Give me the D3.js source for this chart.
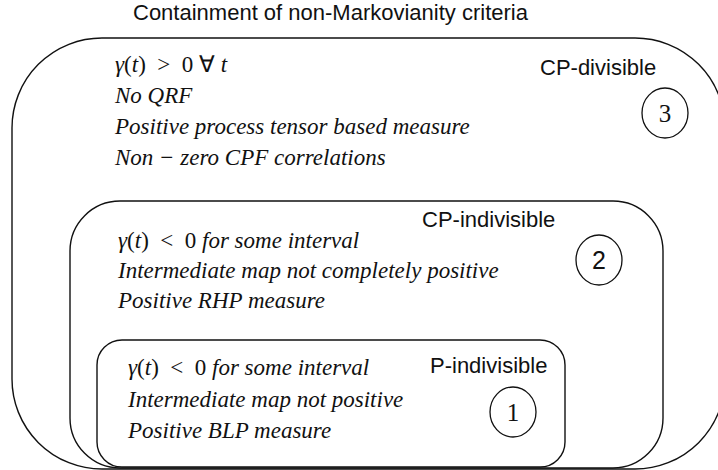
<!DOCTYPE html>
<html>
<head>
<meta charset="utf-8">
<script src="https://cdn.jsdelivr.net/npm/d3@7"></script>
<style>
  body { margin: 0; background: #fff; }
  text { white-space: pre; }
</style>
</head>
<body>
<div id="diagram"></div>
<script>
// regions, outermost first
var regionNames = ["CP-divisible", "CP-indivisible", "P-indivisible"];
var regionNumbers = ["3", "2", "1"];
var regionCriteria = [
  [
    [["γ", "i"], ["(", "n"], ["t", "i"], [")  >  0 ∀ ", "n"], ["t", "i"]],
    [["No QRF", "i"]],
    [["Positive process tensor based measure", "i"]],
    [["Non − zero CPF correlations", "i"]]
  ],
  [
    [["γ", "i"], ["(", "n"], ["t", "i"], [")  <  0 ", "n"], ["for some interval", "i"]],
    [["Intermediate map not completely positive", "i"]],
    [["Positive RHP measure", "i"]]
  ],
  [
    [["γ", "i"], ["(", "n"], ["t", "i"], [")  <  0 ", "n"], ["for some interval", "i"]],
    [["Intermediate map not positive", "i"]],
    [["Positive BLP measure", "i"]]
  ]
];
var title = "Containment of non-Markovianity criteria";

var width = 718;
var height = 470;

// box geometry per nesting level
var boxes = [
  { x0: 12, y0: 38, x1: 725, y1: 469, r: 90, tx: 115, ty: 72, lx: 540, ly: 75, cx: 665, cy: 113 },
  { x0: 70, y0: 201, x1: 663, y1: 468, r: 50, tx: 118, ty: 248, lx: 422, ly: 227, cx: 599, cy: 260 },
  { x0: 97, y0: 340, x1: 565, y1: 467, r: 25, tx: 128, ty: 375, lx: 430, ly: 373, cx: 513, cy: 412 }
];
var lineGap = [31, 30, 31.5];

var svg = d3.select("#diagram")
  .append("svg")
  .attr("width", width)
  .attr("height", height);

svg.append("text")
  .attr("x", 133)
  .attr("y", 20)
  .attr("font-family", "Liberation Sans, Arial, sans-serif")
  .attr("font-size", "22px")
  .attr("fill", "#111")
  .text(title);

var region = svg.selectAll(".region")
  .data(regionNames)
  .enter()
  .append("g")
  .attr("class", "region");

region.append("rect")
  .attr("x", function (d, i) { return boxes[i].x0; })
  .attr("y", function (d, i) { return boxes[i].y0; })
  .attr("width", function (d, i) { return boxes[i].x1 - boxes[i].x0; })
  .attr("height", function (d, i) { return boxes[i].y1 - boxes[i].y0; })
  .attr("rx", function (d, i) { return boxes[i].r; })
  .attr("fill", "none")
  .attr("stroke", "#111")
  .attr("stroke-width", 1.4);

region.append("text")
  .attr("x", function (d, i) { return boxes[i].lx; })
  .attr("y", function (d, i) { return boxes[i].ly; })
  .attr("font-family", "Liberation Sans, Arial, sans-serif")
  .attr("font-size", "22px")
  .attr("fill", "#111")
  .text(function (d) { return d; });

region.append("ellipse")
  .attr("cx", function (d, i) { return boxes[i].cx; })
  .attr("cy", function (d, i) { return boxes[i].cy; })
  .attr("rx", 23)
  .attr("ry", 25)
  .attr("fill", "none")
  .attr("stroke", "#111")
  .attr("stroke-width", 1.3);

region.append("text")
  .attr("x", function (d, i) { return boxes[i].cx; })
  .attr("y", function (d, i) { return boxes[i].cy + 9; })
  .attr("text-anchor", "middle")
  .attr("font-family", function (d, i) { return i === 1 ? "Liberation Sans, Arial, sans-serif" : "Liberation Serif, serif"; })
  .attr("font-size", "25px")
  .attr("fill", "#111")
  .text(function (d, i) { return regionNumbers[i]; });

// criteria lines, each made of italic / upright pieces
region.each(function (d, i) {
  var g = d3.select(this);
  g.selectAll(".crit")
    .data(regionCriteria[i])
    .enter()
    .append("text")
    .attr("class", "crit")
    .attr("x", boxes[i].tx)
    .attr("y", function (line, j) { return boxes[i].ty + j * lineGap[i]; })
    .attr("font-family", "Liberation Serif, Times New Roman, serif")
    .attr("font-size", "23px")
    .attr("fill", "#111")
    .selectAll("tspan")
    .data(function (line) { return line; })
    .enter()
    .append("tspan")
    .attr("font-style", function (p) { return p[1] === "i" ? "italic" : "normal"; })
    .text(function (p) { return p[0]; });
});
</script>
</body>
</html>
